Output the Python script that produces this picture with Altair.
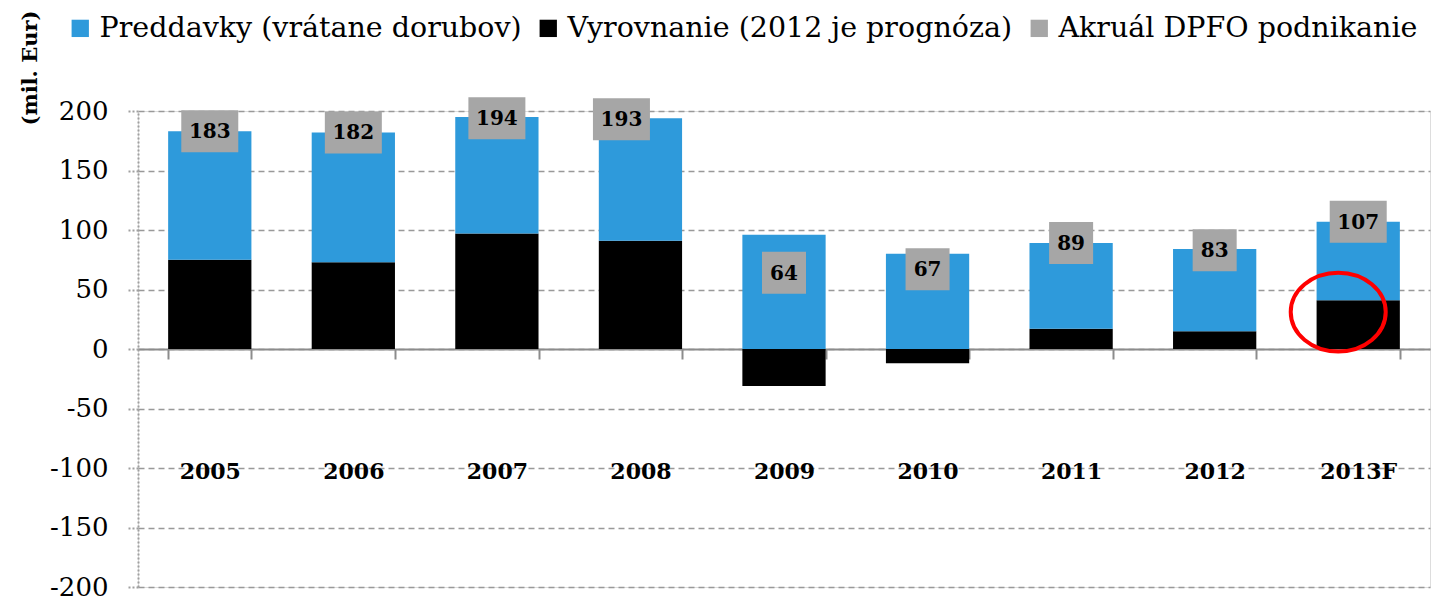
import altair as alt
import pandas as pd

years = ["2005", "2006", "2007", "2008", "2009", "2010", "2011", "2012", "2013F"]
preddavky = [108, 109, 98, 103, 96, 80, 72, 69, 66]
vyrovnanie = [75, 73, 97, 91, -31, -12, 17, 15, 41]
akrual = [183, 182, 194, 193, 64, 67, 89, 83, 107]

S1 = "Preddavky (vrátane dorubov)"
S2 = "Vyrovnanie (2012 je prognóza)"
S3 = "Akruál DPFO podnikanie"

y_ticks = [-200, -150, -100, -50, 0, 50, 100, 150, 200]

# annotation (red ellipse) around the 2013F settlement bar
note_year = ["2013F"]
note_value = [31]

FONT = "DejaVu Serif"
BLUE = "#2E9ADB"
GREY = "#A6A6A6"

bars = pd.DataFrame({
    "year": years * 2,
    "series": [S2] * len(years) + [S1] * len(years),
    "value": vyrovnanie + preddavky,
    "order": [0] * len(years) + [1] * len(years),
})
acc = pd.DataFrame({"year": years, "series": S3, "value": akrual})
acc["digits"] = acc["value"].astype(str).str.len().astype(str)
note = pd.DataFrame({"year": note_year, "value": note_value})

color = alt.Color(
    "series:N",
    scale=alt.Scale(domain=[S1, S2, S3], range=[BLUE, "#000000", GREY]),
    legend=alt.Legend(
        title=None, orient="none", direction="horizontal", legendX=-72, legendY=-97,
        symbolType="square", symbolSize=300, symbolStrokeWidth=0,
        labelFontSize=28.5, labelFont=FONT, labelColor="#000000",
        labelOffset=5, columnPadding=12, labelLimit=1000,
    ),
)

xenc = alt.X(
    "year:N", sort=years,
    scale=alt.Scale(paddingInner=0.42, paddingOuter=0.21),
    axis=alt.Axis(
        title=None, labelAngle=0, offset=-238, tickBand="extent", tickSize=10,
        domainColor="#8c8c8c", domainWidth=2, tickColor="#8c8c8c", tickWidth=2,
        labelFontSize=22, labelFontWeight="bold", labelFont=FONT, labelColor="#000000",
        labelPadding=102, grid=False,
    ),
)

yscale = alt.Scale(domain=[-200, 200], nice=False)

bar_layer = alt.Chart(bars).mark_bar().encode(
    x=xenc,
    y=alt.Y(
        "value:Q", stack="zero", scale=yscale,
        axis=alt.Axis(
            values=y_ticks, title="(mil. Eur)", titleFont=FONT, titleFontSize=21,
            titleFontWeight="bold", titleColor="#000000",
            titleX=-108, titleY=-101, titleAlign="right", titleBaseline="middle", titleAngle=270,
            labelFontSize=26, labelFont=FONT, labelColor="#000000", labelPadding=20,
            labelExpr="replace(datum.label, '\u2212', '-')",
            domainColor="#a0a0a0", domainDash=[2, 2], domainWidth=2,
            tickColor="#a0a0a0", tickDash=[2, 2], tickSize=10, tickWidth=2,
            grid=True, gridColor="#999999", gridDash=[6, 4], gridWidth=1.5,
        ),
    ),
    color=color,
    order=alt.Order("order:Q"),
)

box_shape = alt.Shape(
    "digits:N",
    scale=alt.Scale(domain=["2", "3"],
                    range=["M-1.048,-1L1.048,-1L1.048,1L-1.048,1Z",
                           "M-1.357,-1L1.357,-1L1.357,1L-1.357,1Z"]),
    legend=None,
)

def boxes(data_filter, dx):
    base = alt.Chart(acc).transform_filter(data_filter)
    b = base.mark_point(filled=True, opacity=1, size=42 * 42, strokeWidth=0, xOffset=dx).encode(
        x=alt.X("year:N", sort=years),
        y=alt.Y("value:Q", scale=yscale),
        shape=box_shape,
        color=color,
    )
    t = base.mark_text(font=FONT, fontSize=20, fontWeight="bold", color="#000000",
                       baseline="middle", align="center", xOffset=dx, dy=1).encode(
        x=alt.X("year:N", sort=years),
        y=alt.Y("value:Q", scale=yscale),
        text=alt.Text("value:Q"),
    )
    return b + t

main_boxes = boxes("datum.year != '2008'", 0)
shift_boxes = boxes("datum.year == '2008'", -19)

ellipse = alt.Chart(note).mark_point(
    shape="M-1,0A1,0.83,0,1,0,1,0A1,0.83,0,1,0,-1,0Z",
    size=95 * 95, filled=False, stroke="#FF0000", strokeWidth=4, opacity=1, xOffset=-20,
).encode(
    x=alt.X("year:N", sort=years),
    y=alt.Y("value:Q", scale=yscale),
)

chart = alt.layer(bar_layer, main_boxes, shift_boxes, ellipse).properties(
    width=1292, height=476,
    autosize=alt.AutoSizeParams(type="none"),
    padding={"left": 130, "top": 103, "right": 5, "bottom": 13},
).configure_view(stroke=None).configure(font=FONT)

chart.save("out.html", embed_options={"renderer": "svg", "actions": False})
